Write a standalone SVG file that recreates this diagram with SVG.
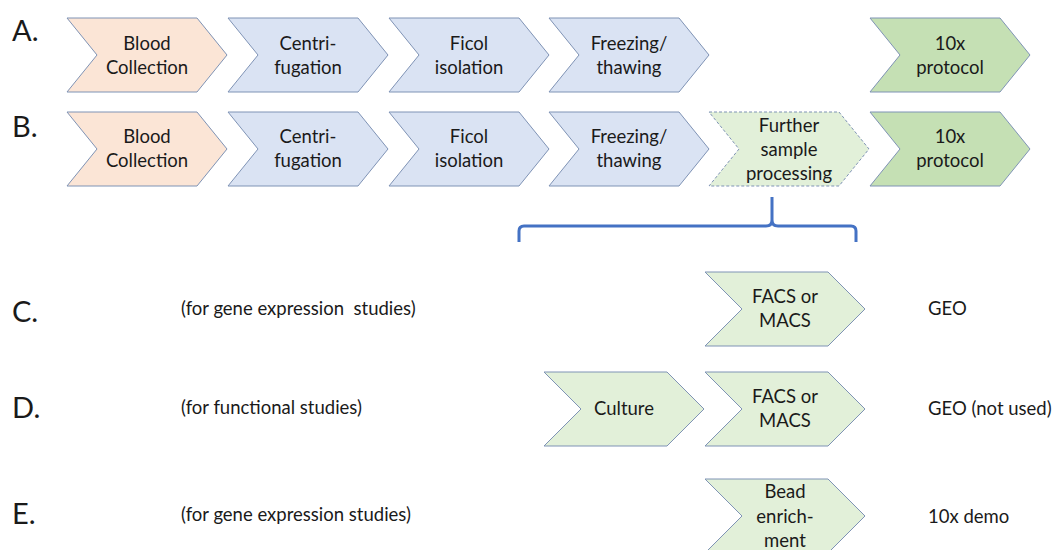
<svg xmlns="http://www.w3.org/2000/svg" width="1053" height="550" viewBox="0 0 1053 550">
<style>
.t{font-family:Lato,"Liberation Sans",sans-serif;font-size:18.5px;fill:#1a1a1a;text-anchor:middle}
.l{font-family:Lato,"Liberation Sans",sans-serif;font-size:18.5px;fill:#1a1a1a}
.big{font-family:Lato,"Liberation Sans",sans-serif;font-size:29px;fill:#1a1a1a}
.peach{fill:#FBE5D6;stroke:#7F93B5;stroke-width:1}
.blue{fill:#DAE3F3;stroke:#7F93B5;stroke-width:1}
.lg{fill:#E2F0D9;stroke:#7F93B5;stroke-width:1}
.dg{fill:#C5E0B4;stroke:#7F93B5;stroke-width:1}
.dash{fill:#E2F0D9;stroke:#7F93B5;stroke-width:1;stroke-dasharray:3 2}
</style>
<defs>
<path id="c1" d="M0,0 H130 L160,37 L130,74 H0 L30,37 Z"/>
<path id="c2" d="M0,0 H123 L160,37 L123,74 H0 L37,37 Z"/>
</defs>
<g id="labels">
<text class="big" x="12" y="41">A.</text>
<text class="big" x="12" y="137">B.</text>
<text class="big" x="12" y="322">C.</text>
<text class="big" x="12" y="418">D.</text>
<text class="big" x="12" y="524">E.</text>
<text class="l" x="181" y="315" xml:space="preserve">(for gene expression  studies)</text>
<text class="l" x="181" y="414">(for functional studies)</text>
<text class="l" x="181" y="521">(for gene expression studies)</text>
<text class="l" x="928" y="315">GEO</text>
<text class="l" x="928" y="415">GEO (not used)</text>
<text class="l" x="928" y="523">10x demo</text>
</g>
<g id="rowA">
<g id="a1"><use href="#c1" x="67" y="18" class="peach"/><text class="t" x="147" y="50">Blood</text><text class="t" x="147" y="74">Collection</text></g>
<g id="a2"><use href="#c1" x="228" y="18" class="blue"/><text class="t" x="308" y="50">Centri-</text><text class="t" x="308" y="74">fugation</text></g>
<g id="a3"><use href="#c1" x="389" y="18" class="blue"/><text class="t" x="469" y="50">Ficol</text><text class="t" x="469" y="74">isolation</text></g>
<g id="a4"><use href="#c1" x="549" y="18" class="blue"/><text class="t" x="629" y="50">Freezing/</text><text class="t" x="629" y="74">thawing</text></g>
<g id="a5"><use href="#c1" x="870" y="18" class="dg"/><text class="t" x="950" y="50">10x</text><text class="t" x="950" y="74">protocol</text></g>
</g>
<g id="rowB">
<g id="b1"><use href="#c1" x="67" y="112" class="peach"/><text class="t" x="147" y="143">Blood</text><text class="t" x="147" y="167">Collection</text></g>
<g id="b2"><use href="#c1" x="228" y="112" class="blue"/><text class="t" x="308" y="143">Centri-</text><text class="t" x="308" y="167">fugation</text></g>
<g id="b3"><use href="#c1" x="389" y="112" class="blue"/><text class="t" x="469" y="143">Ficol</text><text class="t" x="469" y="167">isolation</text></g>
<g id="b4"><use href="#c1" x="549" y="112" class="blue"/><text class="t" x="629" y="143">Freezing/</text><text class="t" x="629" y="167">thawing</text></g>
<g id="b5"><use href="#c1" x="709" y="112" class="dash"/><text class="t" x="789" y="132">Further</text><text class="t" x="789" y="156">sample</text><text class="t" x="789" y="180">processing</text></g>
<g id="b6"><use href="#c1" x="870" y="112" class="dg"/><text class="t" x="950" y="143">10x</text><text class="t" x="950" y="167">protocol</text></g>
</g>
<g id="connectors">
<path d="M519,242 V231 Q519,226 524,226 H766 Q772,226 772,220 V197 M772,220 Q772,226 778,226 H851 Q856,226 856,231 V242" fill="none" stroke="#4472C4" stroke-width="3"/>
</g>
<g id="rowC">
<g id="c1n"><use href="#c2" x="705" y="272" class="lg"/><text class="t" x="785" y="303">FACS or</text><text class="t" x="785" y="327">MACS</text></g>
</g>
<g id="rowD">
<g id="d1"><use href="#c2" x="544" y="372" class="lg"/><text class="t" x="624" y="415">Culture</text></g>
<g id="d2"><use href="#c2" x="705" y="372" class="lg"/><text class="t" x="785" y="403">FACS or</text><text class="t" x="785" y="427">MACS</text></g>
</g>
<g id="rowE">
<g id="e1"><use href="#c2" x="705" y="479" class="lg"/><text class="t" x="785" y="498">Bead</text><text class="t" x="785" y="523">enrich-</text><text class="t" x="785" y="547">ment</text></g>
</g>
</svg>
